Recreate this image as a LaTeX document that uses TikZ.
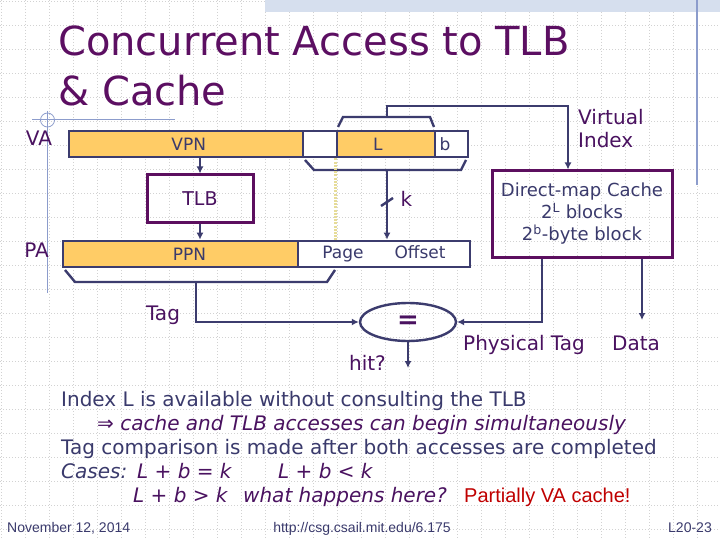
\documentclass[tikz,border=0pt]{standalone}
\usepackage{fontspec}
\setmainfont{DejaVu Sans}
\newfontfamily\arialfont{Liberation Sans}
\usepackage{tikz}
\usepackage{xcolor}
\usetikzlibrary{
    arrows.meta,
    shapes.geometric,
    calc,
    positioning
}
\definecolor{barline}{HTML}{3C3C6E}
\definecolor{boxpurple}{HTML}{5C0F5F}
\definecolor{fieldorange}{HTML}{FFCC66}
\definecolor{textnavy}{HTML}{3A3A6C}
\definecolor{textpurple}{HTML}{4A1260}
\definecolor{titlepurple}{HTML}{5C0F62}
\definecolor{gridgrey}{HTML}{D2D2D2}
\definecolor{rulerblue}{HTML}{8C9CCC}
\definecolor{bandblue}{HTML}{D6DFEE}
\definecolor{alertred}{HTML}{C00000}
\definecolor{offsetyellow}{HTML}{E6DC98}

\begin{document}
\begin{tikzpicture}[
        x=1pt, y=-1pt,
        >={Latex[length=7pt, width=7pt]},
        field/.style={
            draw=barline,
            line width=2.7pt,
            minimum height=26pt,
            inner sep=0pt,
            font=\fontsize{17}{20}\selectfont,
            text=textnavy
        },
        unit/.style={
            draw=boxpurple,
            line width=3pt,
            inner sep=0pt
        },
        wire/.style={draw=barline, line width=2.4pt},
        lbl/.style={
            anchor=base,
            inner sep=0pt,
            font=\fontsize{20}{24}\selectfont,
            text=textpurple
        },
        body/.style={
            anchor=base west,
            inner sep=0pt,
            font=\fontsize{20}{24}\selectfont
        },
        slanted/.style={font=\itshape\fontsize{20}{24}\selectfont},
        foot/.style={
            anchor=base,
            inner sep=0pt,
            font=\arialfont\fontsize{14}{16}\selectfont,
            text=textnavy
        }
    ]
    \useasboundingbox (0, 0) rectangle (720, 540);
    \fill[white] (0, 0) rectangle (720, 540);
    \foreach \gx in {1, 25, ..., 697}
        \draw[gridgrey, line width=0.8pt, dash pattern=on 1pt off 2pt] (\gx, 0) -- (\gx, 540);
    \foreach \gy in {1, 25, ..., 529}
        \draw[gridgrey, line width=0.8pt, dash pattern=on 1pt off 2pt] (0, \gy) -- (720, \gy);
    \fill[bandblue] (265, 0) rectangle (720, 12.5);
    \draw[rulerblue, line width=1.2pt] (697, 0) -- (697, 185);
    \draw[rulerblue, line width=1pt] (32, 120) -- (175, 120);
    \draw[rulerblue, line width=1pt] (47.5, 111) -- (47.5, 293);
    \draw[rulerblue, line width=0.8pt] (47.5, 120) circle[radius=7];

    \node[anchor=base west, inner sep=0pt, font=\fontsize{40}{48}\selectfont, text=titlepurple] (title1) at (58, 56) {Concurrent Access to TLB};
    \node[anchor=base west, inner sep=0pt, font=\fontsize{40}{48}\selectfont, text=titlepurple] (title2) at (58, 106) {\& Cache};

    \node[field, fill=fieldorange, minimum width=234pt, text width=40pt, align=right] (vpn) at (186, 144) {VPN};
    \node[field, fill=white, minimum width=34pt] (vgap) at (320, 144) {};
    \node[field, fill=fieldorange, minimum width=98pt, text width=26pt, align=left] (lidx) at (386, 144) {L};
    \node[field, fill=white, minimum width=33pt, text width=24pt, align=left] (boff) at (451.5, 144) {b};

    \node[field, fill=fieldorange, minimum width=235pt, text width=51pt, align=right] (ppn) at (180.5, 254) {PPN};
    \node[field, fill=white, minimum width=172pt] (pgoff) at (384, 254) {Page\hspace{31pt}Offset};

    \node[unit, minimum width=106pt, minimum height=48pt, font=\fontsize{19}{23}\selectfont, text=textpurple] (tlb) at (200, 199) {TLB};
    \node[unit, minimum width=180pt, minimum height=86pt, align=center, font=\fontsize{18}{22}\selectfont, text=textnavy] (cache) at (582, 214) {Direct-map Cache\\2\textsuperscript{L} blocks\\2\textsuperscript{b}-byte block};
    \node[ellipse, draw=barline, line width=2.4pt, minimum width=96pt, minimum height=38pt, inner sep=0pt, font=\bfseries\fontsize{26}{28}\selectfont, text=textpurple] (eq) at (408, 322) {=};

    \node[lbl] (va) at (39, 146) {VA};
    \node[lbl] (pa) at (36.5, 257) {PA};
    \node[lbl] (taglbl) at (163, 320) {Tag};
    \node[lbl] (hitlbl) at (367.5, 370) {hit?};
    \node[lbl, anchor=base west] (virt) at (578, 125) {Virtual};
    \node[lbl, anchor=base west] (vindex) at (578, 148) {Index};
    \node[lbl] (ptaglbl) at (524, 350) {Physical Tag};
    \node[lbl] (datalbl) at (636, 350) {Data};

    \draw[barline, line width=2.4pt] (338, 127) -- (343, 117) -- (430, 117) -- (434, 127);
    \draw[barline, line width=2.4pt] (305, 160) -- (314, 170) -- (461, 170) -- (466, 160);
    \draw[barline, line width=2.4pt] (65, 270) -- (75, 282) -- (327, 282) -- (335, 270);
    \coordinate (lmid) at (387, 117);
    \coordinate (kmid) at (387, 170);
    \coordinate (tagmid) at (196, 282);
    \coordinate (vturn) at (568, 106);
    \coordinate (kslash) at (387, 202);
    \coordinate (ptag) at (542, 322);
    \coordinate (dataout) at (642, 320);
    \coordinate (hitout) at (408, 368);

    \draw[offsetyellow, line width=2.5pt, dash pattern=on 2pt off 1.2pt] (lidx.south west) -- (lidx.south west |- pgoff.north);

    \draw[wire, ->] (lmid) |- (vturn) -- (vturn |- cache.north);
    \draw[wire, ->] (kmid) -- (kmid |- pgoff.north);
    \draw[wire] ([shift={(-6, 4)}]kslash) -- ([shift={(6, -4)}]kslash);
    \node[lbl] (klbl) at (406.5, 207) {k};
    \draw[wire, ->] (tlb.north |- vpn.south) -- (tlb.north);
    \draw[wire, ->] (tlb.south) -- (tlb.south |- ppn.north);
    \draw[wire, ->] (tagmid) |- (eq.west);
    \draw[wire, ->] (ptag |- cache.south) |- (eq.east);
    \draw[wire, ->] (dataout |- cache.south) -- (dataout);
    \draw[wire, ->] (eq.south) -- (hitout);

    \node[body, text=textnavy] (line1) at (61, 406) {Index L is available without consulting the TLB};
    \node[body, text=textpurple] (line2) at (97, 430) {⇒ \itshape cache and TLB accesses can begin simultaneously};
    \node[body, text=textnavy] (line3) at (61, 454) {Tag comparison is made after both accesses are completed};
    \node[body, slanted, text=textnavy] (cases) at (61, 478) {Cases:};
    \node[body, slanted, text=textpurple] (caseeq) at (137, 478) {L + b = k};
    \node[body, slanted, text=textpurple] (caselt) at (278, 478) {L + b < k};
    \node[body, slanted, text=textpurple] (casegt) at (133, 502) {L + b > k};
    \node[body, slanted, text=textpurple] (what) at (243, 502) {what happens here?};
    \node[body, text=alertred, font=\arialfont\fontsize{20}{24}\selectfont] (partial) at (464, 502) {Partially VA cache!};

    \node[foot, anchor=base west] (date) at (7, 532) {November 12, 2014};
    \node[foot] (url) at (362, 532) {http://csg.csail.mit.edu/6.175};
    \node[foot, anchor=base east] (slideno) at (712, 532) {L20-23};
\end{tikzpicture}
\end{document}
